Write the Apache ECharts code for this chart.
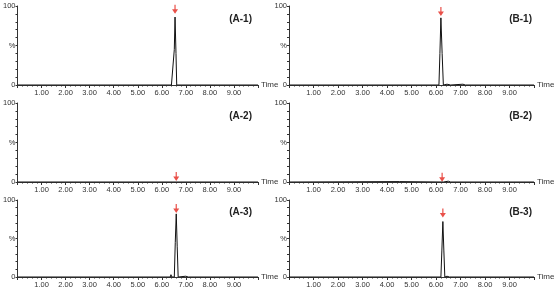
<!DOCTYPE html>
<html>
<head>
<meta charset="utf-8">
<script src="https://cdn.jsdelivr.net/npm/echarts@6/dist/echarts.min.js"></script>
<style>
  html, body { margin: 0; padding: 0; background: #fff; }
  #chart { width: 556px; height: 289px; }
</style>
</head>
<body>
<div id="chart"></div>
<script>
/** panel labels, in grid order (A column left, B column right) */
const panelNames = ["(A-1)", "(B-1)", "(A-2)", "(B-2)", "(A-3)", "(B-3)"];

/** chromatogram traces: [time (min), relative intensity (%)] */
const traceA1 = [[0, 0], [6.3, 0], [6.35, 2], [6.4, 0], [6.48, 0], [6.52, 45], [6.55, 86], [6.59, 40], [6.62, 0], [6.7, 1], [6.8, 0], [10, 0]];
const traceB1 = [[0, 0], [6.12, 0], [6.16, 40], [6.2, 85], [6.25, 40], [6.3, 0], [6.45, 1], [6.6, 0], [7.1, 1], [7.2, 0], [10, 0]];
const traceA2 = [[0, 0], [10, 0]];
const traceB2 = [[0, 0], [4.5, 0.5], [6.3, 0], [6.5, 1], [6.6, 0], [10, 0]];
const traceA3 = [[0, 0], [6.35, 0], [6.38, 3], [6.42, 0], [6.52, 0], [6.56, 45], [6.6, 82], [6.64, 40], [6.68, 0], [6.75, 1], [7.0, 1], [7.1, 0], [10, 0]];
const traceB3 = [[0, 0], [6.2, 0], [6.24, 35], [6.28, 72], [6.32, 35], [6.36, 0], [6.45, 1], [6.55, 0], [10, 0]];
const traces = [traceA1, traceB1, traceA2, traceB2, traceA3, traceB3];

/** red arrow marks: [time, height %] */
const arrows = [[6.55, 96], [6.2, 93], [6.6, 7], [6.25, 6], [6.6, 89], [6.28, 83]];

/** x tick labels shown */
const xTickLabels = ["1.00", "2.00", "3.00", "4.00", "5.00", "6.00", "7.00", "8.00", "9.00"];

const chart = echarts.init(document.getElementById("chart"), null, { renderer: "canvas" });

const colLeft = [13, 289];
const rowTop = [6, 103, 200];
const gridW = 245;
const gridH = 79;
const labelRight = [299, 19];
const labelTop = [9, 106, 202];

const fontFamily = "'Liberation Sans', Arial, sans-serif";
const axisColor = "#333";

const arrowPath = "path://M2,0 L3,0 L3,5 L5,5 L2.5,10 L0,5 L2,5 Z";

const grids = [], xAxes = [], yAxes = [], series = [], titles = [];

panelNames.forEach((name, i) => {
  const row = Math.floor(i / 2);
  const col = i % 2;

  grids.push({ left: colLeft[col], top: rowTop[row], width: gridW, height: gridH });

  titles.push({
    text: name,
    right: labelRight[col],
    top: labelTop[row],
    textStyle: { fontSize: 10, fontWeight: "bold", color: "#222", fontFamily },
  });

  xAxes.push({
    type: "value",
    gridIndex: i,
    min: 0,
    max: 10,
    interval: 1,
    name: "Time",
    nameLocation: "end",
    nameGap: 3,
    nameTextStyle: { fontSize: 8, color: axisColor, fontFamily },
    axisLine: { lineStyle: { color: axisColor, width: 1 } },
    axisTick: { length: 3, lineStyle: { color: axisColor } },
    minorTick: { show: true, splitNumber: 5, length: 1.5, lineStyle: { color: axisColor } },
    splitLine: { show: false },
    axisLabel: {
      fontSize: 7.5,
      color: axisColor,
      fontFamily,
      margin: 4,
      formatter: (v) => xTickLabels[Math.round(v) - 1] || "",
    },
  });

  yAxes.push({
    type: "value",
    gridIndex: i,
    min: 0,
    max: 100,
    interval: 10,
    axisLine: { show: true, lineStyle: { color: axisColor, width: 1 } },
    axisTick: { show: true, length: 2, lineStyle: { color: axisColor } },
    splitLine: { show: false },
    axisLabel: {
      fontSize: 7.5,
      color: axisColor,
      fontFamily,
      margin: 2,
      formatter: (v) => (v === 0 ? "0" : v === 100 ? "100" : v === 50 ? "%" : ""),
    },
  });

  series.push({
    type: "line",
    xAxisIndex: i,
    yAxisIndex: i,
    data: traces[i],
    showSymbol: false,
    silent: true,
    lineStyle: { color: "#111", width: 1 },
    animation: false,
  });

  series.push({
    type: "scatter",
    xAxisIndex: i,
    yAxisIndex: i,
    data: [arrows[i]],
    symbol: arrowPath,
    symbolSize: [6, 9],
    silent: true,
    itemStyle: { color: "#e3241b" },
    animation: false,
  });
});

chart.setOption({
  animation: false,
  title: titles,
  grid: grids,
  xAxis: xAxes,
  yAxis: yAxes,
  series,
});
</script>
</body>
</html>
